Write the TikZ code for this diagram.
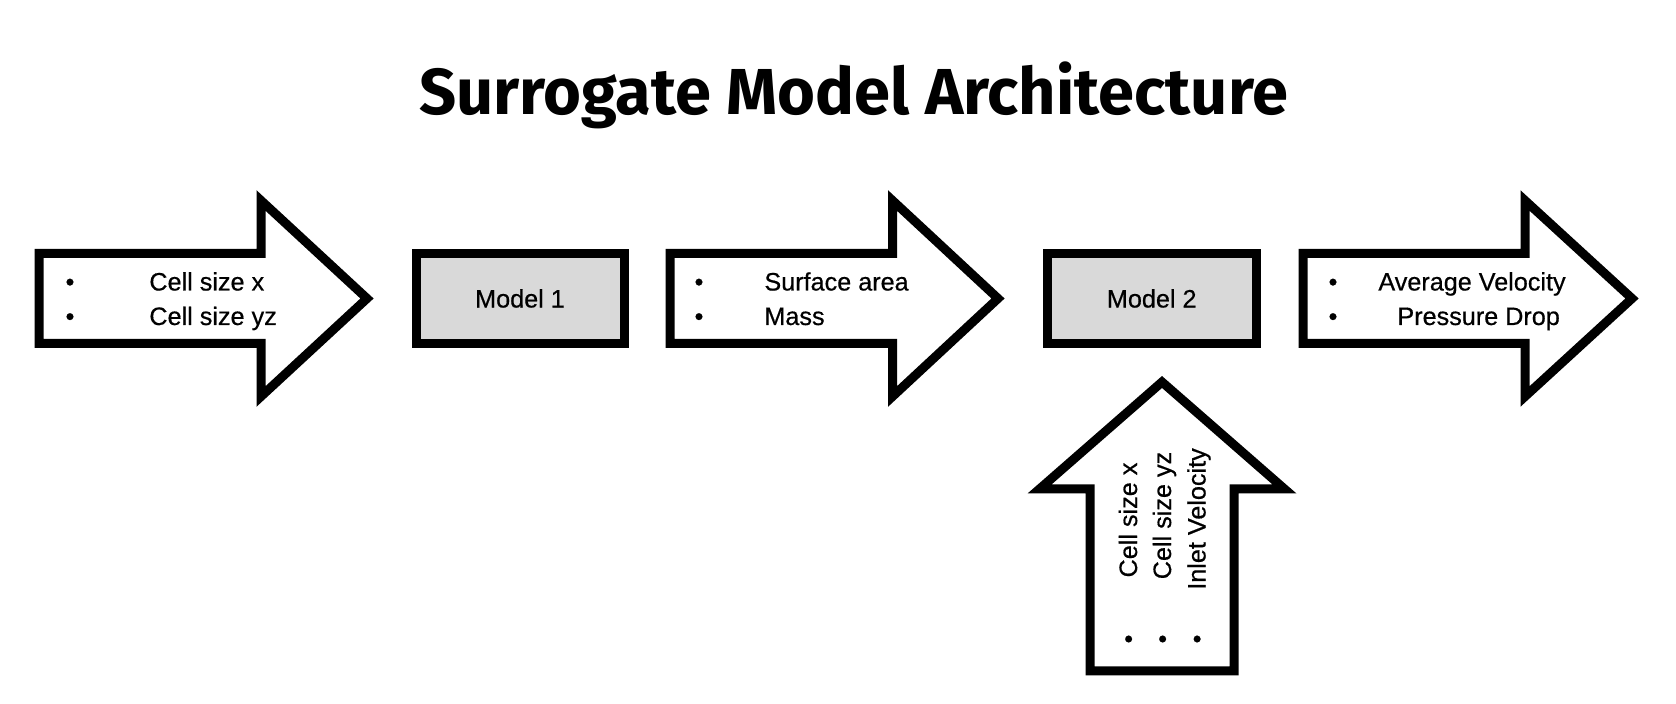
\documentclass[tikz,border=0pt]{standalone}
\usepackage{fontspec}
\setmainfont{Liberation Sans}[FakeBold=0.5]
\newfontfamily\titlefont{Fira Sans}
\definecolor{boxgray}{HTML}{D9D9D9}
\tikzset{
  blockarrow/.style={draw=black, fill=white, line width=4.5pt, line join=miter, miter limit=10},
  modelbox/.style={draw=black, fill=boxgray, line width=4.5pt, minimum width=104pt, minimum height=45pt, inner sep=0pt, font=\fontsize{12.6}{15}\selectfont},
  itemtext/.style={inner sep=0pt, font=\fontsize{12.6}{15}\selectfont},
  titletext/.style={inner sep=0pt, font=\titlefont\bfseries\fontsize{32.5}{38}\selectfont}
}
\newcommand{\rightblock}[3]{%
  \draw[blockarrow] (#1,253.5) -- (#2,253.5) -- (#2,200.5) -- (#3,298.5) -- (#2,396.5) -- (#2,343.5) -- (#1,343.5) -- cycle;}
\begin{document}
\begin{tikzpicture}[x=0.5pt, y=-0.5pt]
\useasboundingbox (0,0) rectangle (1676,704);
\fill[white] (0,0) rectangle (1676,704);

% title
\node[titletext, anchor=base] (title) at (853.5,115) {Surrogate Model Architecture};

% input arrow
\rightblock{39}{261}{367}
\node[itemtext, anchor=base] (b1a) at (70,290.5) {•};
\node[itemtext, anchor=base] (b1b) at (70,325) {•};
\node[itemtext, anchor=base west] (in1a) at (149,290.5) {Cell size x};
\node[itemtext, anchor=base west] (in1b) at (149,325) {Cell size yz};

% model 1
\node[modelbox] (m1) at (520,298.5) {Model 1};

% intermediate arrow
\rightblock{670}{892.5}{998}
\node[itemtext, anchor=base] (b2a) at (699,290.5) {•};
\node[itemtext, anchor=base] (b2b) at (699,325) {•};
\node[itemtext, anchor=base west] (mid1) at (764,290.5) {Surface area};
\node[itemtext, anchor=base west] (mid2) at (764,325) {Mass};

% model 2
\node[modelbox, minimum width=104.25pt] (m2) at (1151.75,298.5) {Model 2};

% output arrow
\rightblock{1303}{1525}{1632}
\node[itemtext, anchor=base] (b3a) at (1333,290.5) {•};
\node[itemtext, anchor=base] (b3b) at (1333,325) {•};
\node[itemtext, anchor=base west] (out1) at (1378,290.5) {Average Velocity};
\node[itemtext, anchor=base west] (out2) at (1397,325) {Pressure Drop};

% upward input arrow
\draw[blockarrow] (1090,671) -- (1090,489) -- (1039.5,489) -- (1162,382) -- (1284.5,489) -- (1234,489) -- (1234,671) -- cycle;
\node[itemtext, anchor=base, rotate=90] (u1) at (1137,520) {Cell size x};
\node[itemtext, anchor=base, rotate=90] (u2) at (1171,515.5) {Cell size yz};
\node[itemtext, anchor=base, rotate=90] (u3) at (1205.5,519) {Inlet Velocity};
\node[itemtext, anchor=base, rotate=90] (ub1) at (1137,639) {•};
\node[itemtext, anchor=base, rotate=90] (ub2) at (1171,639) {•};
\node[itemtext, anchor=base, rotate=90] (ub3) at (1205.5,639) {•};
\end{tikzpicture}
\end{document}
